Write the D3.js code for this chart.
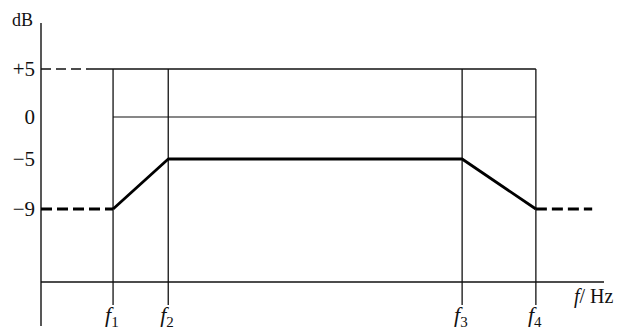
<!DOCTYPE html>
<html>
<head>
<meta charset="utf-8">
<script src="https://cdn.jsdelivr.net/npm/d3@7"></script>
<style>
  body { margin: 0; background: #fff; }
  svg { display: block; }
  text { font-family: "Liberation Serif", "DejaVu Serif", serif; fill: #111; }
</style>
</head>
<body>
<div id="app"></div>
<script>
// Frequency response sketch (schematic, nominal units)
const freqNames = ["f", "f", "f", "f"];
const freqSubs = ["1", "2", "3", "4"];
const freqPos = [1.28, 2.26, 7.48, 8.79];
const responseDb = [-9, -5, -5, -9];
const yTicks = [5, 0, -5, -9];
const yTickLabels = ["+5", "0", "\u22125", "\u22129"];
const leftDash = [[0, -9], [1.28, -9]];
const rightDash = [[8.79, -9], [9.79, -9]];
const topDash = [[0, 5], [0.87, 5]];
const topSolid = [[0.87, 5], [8.79, 5]];
const zeroLine = [[1.28, 0], [8.79, 0]];

const width = 620;
const height = 329;
const left = 41;
const right = 604;
const baseY = 282;

const x = d3.scaleLinear().domain([0, 10]).range([left, right]);
// schematic: dB ticks are not evenly spaced in the drawing
const y = d3.scaleLinear().domain([-9, -5, 0, 5]).range([209, 159, 117, 69]);

const svg = d3.select("#app").append("svg")
  .attr("width", width)
  .attr("height", height);

const line = d3.line().x((d) => x(d[0])).y((d) => y(d[1]));

// y axis labels
const yAxis = d3.axisLeft(y)
  .tickValues(yTicks)
  .tickFormat((d, i) => yTickLabels[i])
  .tickSize(0)
  .tickPadding(6);

const gy = svg.append("g")
  .attr("transform", `translate(${left},0)`)
  .call(yAxis);
gy.select(".domain").remove();
gy.selectAll("text")
  .style("font-family", "Liberation Serif, serif")
  .style("font-size", "21px")
  .attr("fill", "#111");

// axes lines
svg.append("line")
  .attr("x1", left).attr("x2", left)
  .attr("y1", 23).attr("y2", 326)
  .attr("stroke", "#111").attr("stroke-width", 1.4);

svg.append("line")
  .attr("x1", left).attr("x2", right)
  .attr("y1", baseY).attr("y2", baseY)
  .attr("stroke", "#111").attr("stroke-width", 1.3);

svg.append("text")
  .attr("x", 12).attr("y", 26)
  .style("font-size", "18px")
  .text("dB");

// frame lines
svg.append("path").datum(topDash)
  .attr("d", line).attr("fill", "none")
  .attr("stroke", "#111").attr("stroke-width", 1.3)
  .attr("stroke-dasharray", "10,5");

svg.append("path").datum(topSolid)
  .attr("d", line).attr("fill", "none")
  .attr("stroke", "#111").attr("stroke-width", 1.3);

svg.append("path").datum(zeroLine)
  .attr("d", line).attr("fill", "none")
  .attr("stroke", "#111").attr("stroke-width", 1.2);

svg.selectAll(".fline")
  .data(freqPos)
  .enter()
  .append("line")
  .attr("class", "fline")
  .attr("x1", (d) => x(d)).attr("x2", (d) => x(d))
  .attr("y1", y(5)).attr("y2", 305)
  .attr("stroke", "#111").attr("stroke-width", 1.3);

// response curve
svg.append("path")
  .datum(freqPos.map((f, i) => [f, responseDb[i]]))
  .attr("d", line).attr("fill", "none")
  .attr("stroke", "#000").attr("stroke-width", 2.8)
  .attr("stroke-linejoin", "round");

svg.selectAll(".dash")
  .data([leftDash, rightDash])
  .enter()
  .append("path")
  .attr("class", "dash")
  .attr("d", line).attr("fill", "none")
  .attr("stroke", "#000").attr("stroke-width", 2.8)
  .attr("stroke-dasharray", "11,5");

// frequency labels
const fl = svg.selectAll(".flabel")
  .data(freqPos)
  .enter()
  .append("text")
  .attr("class", "flabel")
  .attr("x", (d) => x(d) - 8)
  .attr("y", 322)
  .style("font-size", "22px");
fl.append("tspan")
  .style("font-style", "italic")
  .text((d, i) => freqNames[i]);
fl.append("tspan")
  .attr("dy", 5)
  .style("font-size", "15px")
  .text((d, i) => freqSubs[i]);

const xl = svg.append("text")
  .attr("x", 574).attr("y", 303)
  .style("font-size", "20px");
xl.append("tspan").style("font-style", "italic").text("f");
xl.append("tspan").text("/ Hz");
</script>
</body>
</html>
